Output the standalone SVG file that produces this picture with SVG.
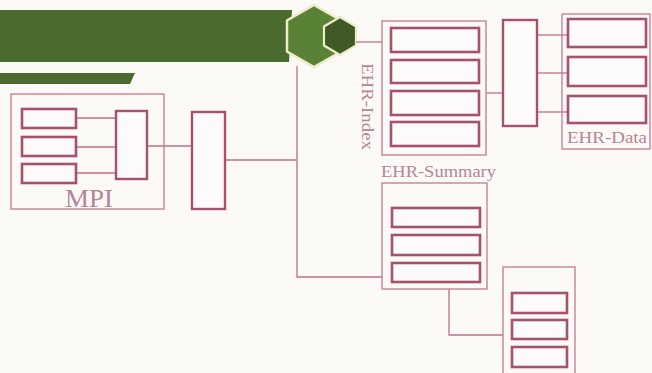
<svg xmlns="http://www.w3.org/2000/svg" width="652" height="373" viewBox="0 0 652 373">
<style>
.box{fill:none;stroke:#c47a93;stroke-width:1.3}
.cell{fill:#fdfbfa;stroke:#a8506f;stroke-width:2.6}
.bar{fill:#fdfbfa;stroke:#a8506f;stroke-width:2.4}
.wire{fill:none;stroke:#c06f8a;stroke-width:1.3}
.lbl{font-family:"Liberation Serif",serif;fill:#b68597}
</style>
<rect x="0" y="0" width="652" height="373" fill="#fbfaf7"/>
<g id="banner">
<polygon points="0,10 292,10 289,62 0,62" fill="#4b6a2e"/>
<polygon points="0,73 135,73 130,84 0,84" fill="#4b6a2e"/>
<polygon points="314,5 341,20.5 341,51.5 314,67 287,51.5 287,20.5" fill="#5a8236" stroke="#eeebc8" stroke-width="2.5"/>
<polygon points="340,17 356,26.5 356,45.5 340,55 324,45.5 324,26.5" fill="#3f5a24" stroke="#eeebc8" stroke-width="2.2"/>
</g>
<g id="connectors">
<polyline class="wire" points="356,42 382,42"/>
<polyline class="wire" points="297,66 297,277 382,277"/>
<polyline class="wire" points="225,160 297,160"/>
<polyline class="wire" points="147,146 192,146"/>
<polyline class="wire" points="76,118 116,118"/>
<polyline class="wire" points="76,147 116,147"/>
<polyline class="wire" points="76,173 116,173"/>
<polyline class="wire" points="486,93 503,93"/>
<polyline class="wire" points="537,35 568,35"/>
<polyline class="wire" points="537,73 568,73"/>
<polyline class="wire" points="537,112 568,112"/>
<polyline class="wire" points="449,289 449,335 503,335"/>
</g>
<g id="mpi">
<rect class="box" x="11" y="94" width="153" height="115"/>
<rect class="cell" x="22" y="109" width="54" height="19"/>
<rect class="cell" x="22" y="137" width="54" height="19"/>
<rect class="cell" x="22" y="164" width="54" height="19"/>
<rect class="bar" x="116" y="111" width="31" height="68"/>
<text class="lbl" x="65" y="207" font-size="25" textLength="48" lengthAdjust="spacingAndGlyphs">MPI</text>
</g>
<g id="mpi-link">
<rect class="bar" x="192" y="112" width="33" height="97"/>
</g>
<g id="ehr-index">
<rect class="box" x="382" y="21" width="104" height="134"/>
<rect class="cell" x="391" y="28" width="88" height="24"/>
<rect class="cell" x="391" y="60" width="88" height="23"/>
<rect class="cell" x="391" y="91" width="88" height="24"/>
<rect class="cell" x="391" y="122" width="88" height="24"/>
<text class="lbl" transform="translate(362,63) rotate(90)" font-size="16.5" textLength="87" lengthAdjust="spacingAndGlyphs">EHR-Index</text>
</g>
<g id="ehr-link">
<rect class="bar" x="503" y="20" width="34" height="106"/>
</g>
<g id="ehr-data">
<rect class="box" x="562" y="14" width="88" height="135"/>
<rect class="cell" x="568" y="19" width="78" height="28"/>
<rect class="cell" x="568" y="57" width="78" height="29"/>
<rect class="cell" x="568" y="96" width="78" height="27"/>
<text class="lbl" x="567" y="143" font-size="17" textLength="80" lengthAdjust="spacingAndGlyphs">EHR-Data</text>
</g>
<g id="ehr-summary">
<text class="lbl" x="381" y="177" font-size="17" textLength="115" lengthAdjust="spacingAndGlyphs">EHR-Summary</text>
<rect class="box" x="382" y="183" width="105" height="106"/>
<rect class="cell" x="392" y="208" width="88" height="19"/>
<rect class="cell" x="392" y="235" width="88" height="20"/>
<rect class="cell" x="392" y="263" width="88" height="19"/>
</g>
<g id="sub-store">
<rect class="box" x="503" y="267" width="72" height="120"/>
<rect class="cell" x="512" y="293" width="55" height="20"/>
<rect class="cell" x="512" y="320" width="55" height="19"/>
<rect class="cell" x="512" y="347" width="55" height="20"/>
</g>
</svg>
